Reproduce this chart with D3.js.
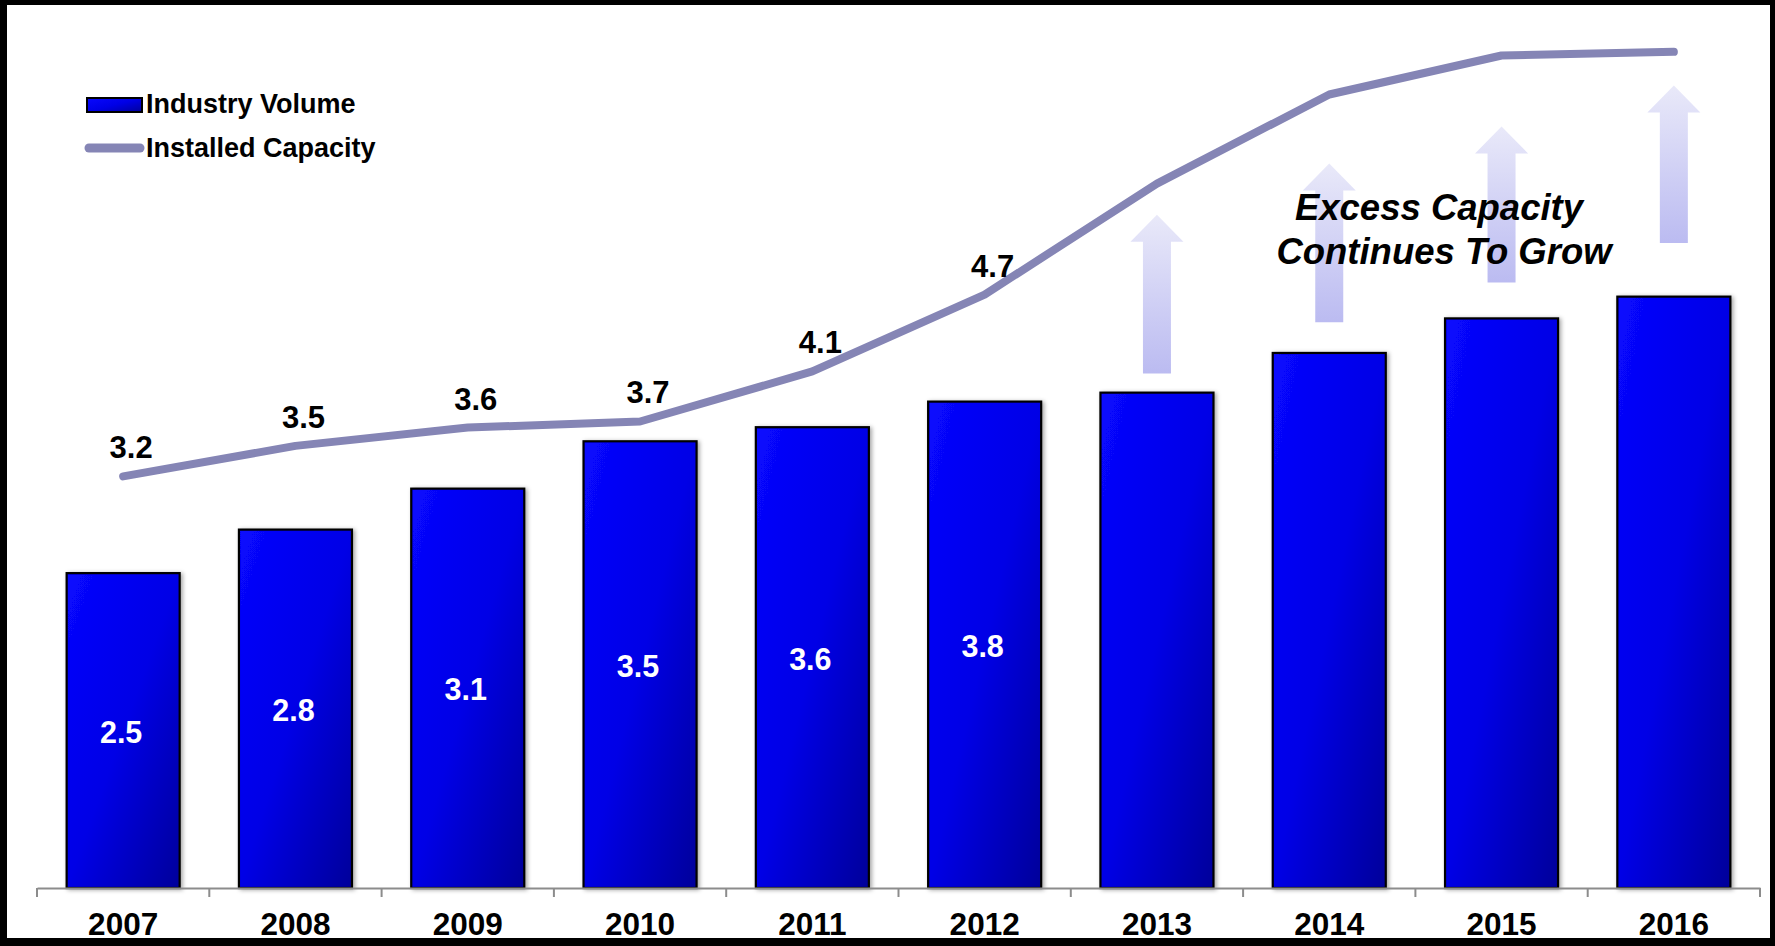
<!DOCTYPE html>
<html><head><meta charset="utf-8">
<script src="https://cdn.jsdelivr.net/npm/d3@7"></script>
<style>
html,body{margin:0;padding:0;background:#fff;}
svg{display:block;}
text{font-family:"Liberation Sans",Arial,Helvetica,sans-serif;font-weight:bold;}
</style>
</head><body>
<svg id="chart" width="1775" height="946"></svg>
<script>
const years = ["2007","2008","2009","2010","2011","2012","2013","2014","2015","2016"];
const industryVolume = [2.46,2.80,3.12,3.49,3.60,3.80,3.87,4.18,4.45,4.62];
const installedCapacity = [3.21,3.46,3.61,3.66,4.07,4.70,5.61,6.34,6.66,6.69];
const labeledYears = ["2007","2008","2009","2010","2011","2012"];
const arrowYears = ["2013","2014","2015","2016"];
const arrowFrom = [4.02,4.42,4.73,5.04];
const arrowTo = [5.26,5.66,5.95,6.27];
const seriesNames = ["Industry Volume","Installed Capacity"];
const annotationLines = ["Excess Capacity","Continues To Grow"];

const W = 1775, H = 946;
const svg = d3.select("#chart");
const defs = svg.append("defs");

const barGrad = defs.append("linearGradient").attr("id","barGrad")
  .attr("x1","0").attr("y1","0").attr("x2","1").attr("y2","1");
barGrad.append("stop").attr("offset","0").attr("stop-color","#0808ff");
barGrad.append("stop").attr("offset","0.5").attr("stop-color","#0000e6");
barGrad.append("stop").attr("offset","1").attr("stop-color","#00009a");

const arrowGrad = defs.append("linearGradient").attr("id","arrowGrad")
  .attr("x1","0").attr("y1","0").attr("x2","0").attr("y2","1");
arrowGrad.append("stop").attr("offset","0").attr("stop-color","#e9e9f9");
arrowGrad.append("stop").attr("offset","1").attr("stop-color","#bbbbf1");

const shadow = defs.append("filter").attr("id","shadow")
  .attr("x","-10%").attr("y","-5%").attr("width","125%").attr("height","115%");
shadow.append("feDropShadow").attr("dx",2).attr("dy",1).attr("stdDeviation",2)
  .attr("flood-color","#000").attr("flood-opacity",0.35);

// frame
svg.append("rect").attr("width",W).attr("height",H).attr("fill","#000");
svg.append("rect").attr("x",7).attr("y",5).attr("width",1763).attr("height",933).attr("fill","#fff");

const x = d3.scaleBand().domain(years).range([37,1760]).padding(0);
const bw = x.bandwidth()*0.656;
const y = d3.scaleLinear().domain([0,7]).range([888,-8]);
const y2 = d3.scaleLinear().domain([0,7]).range([868,14]);
const cx = d => x(d) + x.bandwidth()/2;

// arrows
const arrows = arrowYears.map((d,i)=>({year:d, from:arrowFrom[i], to:arrowTo[i]}));
svg.append("g").selectAll("path").data(arrows).join("path")
  .attr("fill","url(#arrowGrad)")
  .attr("d", a => {
    const c = cx(a.year), tip = y(a.to), bot = y(a.from), hb = tip + 27;
    return `M${c},${tip}L${c+26.5},${hb}L${c+14},${hb}L${c+14},${bot}L${c-14},${bot}L${c-14},${hb}L${c-26.5},${hb}Z`;
  });

// bars
const bars = years.map((d,i)=>({year:d, v:industryVolume[i]}));
svg.append("g").selectAll("rect").data(bars).join("rect")
  .attr("x", d => cx(d.year) - bw/2)
  .attr("y", d => y(d.v))
  .attr("width", bw)
  .attr("height", d => y(0) - y(d.v))
  .attr("fill","url(#barGrad)")
  .attr("stroke","#000").attr("stroke-width",2.2)
  .attr("filter","url(#shadow)");

// axis
const axisG = svg.append("g").attr("transform","translate(0,888)")
  .call(d3.axisBottom(x).tickSize(0).tickPadding(0));
axisG.select(".domain").attr("stroke","#8c8c8c").attr("stroke-width",2);
axisG.selectAll(".tick text")
  .attr("y",47).attr("dy",0)
  .attr("font-size",31.5).attr("font-family","Liberation Sans, Arial, sans-serif")
  .attr("font-weight","bold").attr("fill","#000");
axisG.selectAll(".boundary").data(years.map(d=>x(d)).concat([x.range()[1]])).join("line")
  .attr("class","boundary")
  .attr("x1",d=>d).attr("x2",d=>d).attr("y1",0).attr("y2",9)
  .attr("stroke","#8c8c8c").attr("stroke-width",2);

// bar labels
const fmt = d3.format(".1f");
svg.append("g").selectAll("text").data(bars.filter(d=>labeledYears.includes(d.year))).join("text")
  .attr("x", d => cx(d.year) - 2)
  .attr("y", d => (y(d.v) + y(0))/2 + 12)
  .attr("text-anchor","middle").attr("font-size",30.5).attr("fill","#fff")
  .text(d => fmt(d.v));

// line
const pts = years.map((d,i)=>({year:d, v:installedCapacity[i]}));
const line = d3.line().x(d=>cx(d.year)).y(d=>y2(d.v));
svg.append("path").datum(pts)
  .attr("d", line).attr("fill","none")
  .attr("stroke","#8585b5").attr("stroke-width",8)
  .attr("stroke-linecap","round").attr("stroke-linejoin","round");

svg.append("g").selectAll("text").data(pts.filter(d=>labeledYears.includes(d.year))).join("text")
  .attr("x", d => cx(d.year) + 8)
  .attr("y", d => y2(d.v) - 18)
  .attr("text-anchor","middle").attr("font-size",31).attr("fill","#000")
  .text(d => fmt(d.v));

// annotation
svg.append("g").selectAll("text").data(annotationLines).join("text")
  .attr("x",(d,i)=> i===0 ? 1439 : 1444)
  .attr("y",(d,i)=> 220 + i*44)
  .attr("text-anchor","middle").attr("font-size",36.5).attr("font-style","italic").attr("fill","#000")
  .text(d=>d);

// legend
const lg = svg.append("g");
lg.append("rect").attr("x",87).attr("y",98).attr("width",55).attr("height",14)
  .attr("fill","url(#barGrad)").attr("stroke","#000").attr("stroke-width",2);
lg.append("line").attr("x1",89).attr("x2",140).attr("y1",148).attr("y2",148)
  .attr("stroke","#8585b5").attr("stroke-width",9).attr("stroke-linecap","round");
lg.selectAll("text").data(seriesNames).join("text")
  .attr("x",146).attr("y",(d,i)=>113 + i*44)
  .attr("font-size",27).attr("fill","#000")
  .text(d=>d);
</script>
</body></html>
